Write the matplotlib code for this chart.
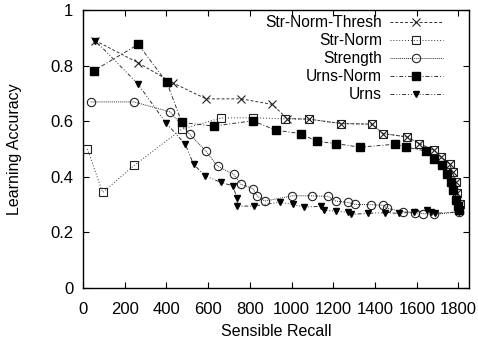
import matplotlib
matplotlib.use("Agg")
import matplotlib.pyplot as plt

plt.rcParams['font.family'] = ['Liberation Sans', 'DejaVu Sans']

# Str-Norm-Thresh
snt_x = [58, 264, 432, 590, 758, 907, 979, 1082, 1238, 1386, 1438, 1553, 1613,
         1682, 1718, 1758, 1772, 1786, 1795, 1806]
snt_y = [0.89, 0.81, 0.737, 0.68, 0.68, 0.66, 0.609, 0.607, 0.591, 0.589, 0.555,
         0.543, 0.519, 0.495, 0.471, 0.445, 0.415, 0.381, 0.34, 0.30]

# Str-Norm
sn_x = [21, 94, 246, 474, 662, 815, 970, 1082, 1238, 1386, 1438, 1553, 1613,
        1682, 1718, 1758, 1772, 1786, 1795, 1806]
sn_y = [0.50, 0.343, 0.441, 0.571, 0.611, 0.612, 0.608, 0.607, 0.591, 0.589,
        0.555, 0.543, 0.519, 0.495, 0.471, 0.445, 0.415, 0.381, 0.34, 0.30]

# Strength
st_x = [37, 245, 418, 512, 589, 645, 722, 758, 815, 834, 872, 1004, 1100, 1174,
        1213, 1270, 1306, 1382, 1438, 1457, 1534, 1592, 1629, 1684, 1801]
st_y = [0.669, 0.669, 0.633, 0.552, 0.492, 0.438, 0.408, 0.372, 0.357, 0.331,
        0.312, 0.331, 0.331, 0.329, 0.312, 0.307, 0.300, 0.299, 0.297, 0.286,
        0.274, 0.270, 0.267, 0.264, 0.273]

# Urns-Norm
un_x = [53, 265, 402, 474, 626, 813, 926, 1044, 1120, 1213, 1326, 1498, 1550,
        1646, 1685, 1722, 1745, 1762, 1774, 1786, 1796, 1802]
un_y = [0.782, 0.876, 0.739, 0.595, 0.582, 0.601, 0.567, 0.555, 0.527, 0.519,
        0.506, 0.517, 0.506, 0.492, 0.463, 0.442, 0.411, 0.381, 0.351, 0.315,
        0.295, 0.28]

# Urns
u_x = [58, 262, 397, 491, 530, 586, 662, 718, 738, 740, 818, 944, 1005, 1060,
       1140, 1154, 1213, 1270, 1286, 1364, 1448, 1514, 1586, 1650, 1666, 1686, 1801]
u_y = [0.89, 0.735, 0.594, 0.516, 0.444, 0.403, 0.379, 0.367, 0.324, 0.294,
       0.294, 0.308, 0.300, 0.291, 0.293, 0.279, 0.276, 0.271, 0.264, 0.268,
       0.270, 0.268, 0.273, 0.279, 0.273, 0.268, 0.273]

fig = plt.figure(figsize=(4.78, 3.43), dpi=100)
ax = fig.add_axes([0.1736, 0.161, 0.981 - 0.1736, 0.971 - 0.161])

lc = '#333333'
lw = 0.7
ax.plot(snt_x, snt_y, color=lc, lw=lw, ls=(0, (3, 2)), marker='x', ms=6,
        mew=0.8, mec='#222222', label='Str-Norm-Thresh')
ax.plot(sn_x, sn_y, color=lc, lw=lw, ls=(0, (1, 2)), marker='s', ms=5.5,
        mfc='none', mew=0.8, mec='#222222', label='Str-Norm')
ax.plot(st_x, st_y, color=lc, lw=lw, ls=(0, (1, 1)), marker='o', ms=6,
        mfc='none', mew=0.8, mec='#222222', label='Strength')
ax.plot(un_x, un_y, color=lc, lw=lw, ls=(0, (4, 2, 1, 2)), marker='s', ms=5.5,
        mfc='black', mec='black', label='Urns-Norm')
ax.plot(u_x, u_y, color=lc, lw=lw, ls=(0, (4, 2, 1, 2, 1, 2)), marker='v', ms=5,
        mfc='black', mec='black', label='Urns')

ax.set_xlim(0, 1850)
ax.set_ylim(0, 1)
ax.set_xticks(range(0, 1801, 200))
ax.set_yticks([0, 0.2, 0.4, 0.6, 0.8, 1])
ax.set_yticklabels(['0', '0.2', '0.4', '0.6', '0.8', '1'])
ax.tick_params(direction='in', top=True, right=True, length=4, width=0.8,
               labelsize=12)
ax.tick_params(axis='x', pad=10)
ax.tick_params(axis='y', pad=7)
for s in ax.spines.values():
    s.set_linewidth(1.0)

ax.set_xlabel('Sensible Recall', fontsize=11.5, labelpad=5)
ax.set_ylabel('Learning Accuracy', fontsize=11.5, labelpad=20)

leg = ax.legend(loc='upper right', bbox_to_anchor=(0.94, 0.993), frameon=False,
                markerfirst=False, numpoints=1, fontsize=11.2, handlelength=3.4,
                handletextpad=0.5, labelspacing=0.2, borderaxespad=0,
                borderpad=0.2)
# right-align the label texts like gnuplot's key
for col in leg._legend_box.get_children()[1].get_children():
    col.align = 'right'

fig.savefig('out.png', dpi=100)
